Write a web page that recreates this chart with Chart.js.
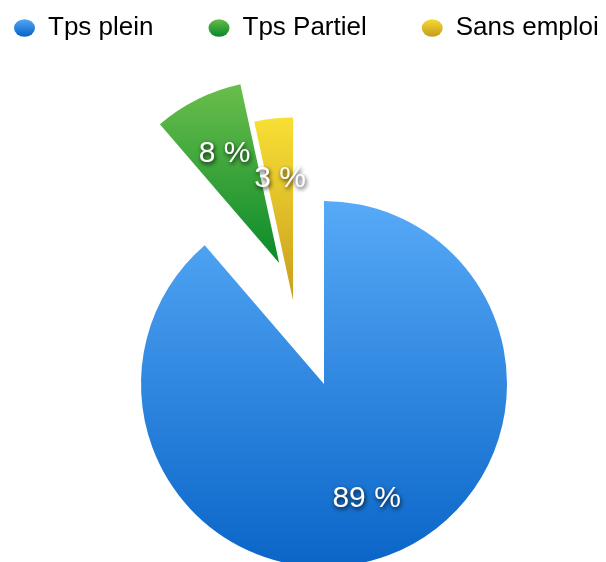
<!DOCTYPE html>
<html>
<head>
<meta charset="utf-8">
<script src="https://cdn.jsdelivr.net/npm/chart.js@4/dist/chart.umd.min.js"></script>
<style>
  html, body { margin: 0; padding: 0; background: #ffffff; overflow: hidden; }
  #wrap { position: relative; width: 606px; height: 562px; overflow: hidden; background: #ffffff; }
  #c { position: absolute; left: -41px; top: -40px; width: 730px; height: 757px; }
</style>
</head>
<body>
<div id="wrap"><canvas id="c" width="730" height="757"></canvas></div>
<script>
// ---- data ----
const categories = ['Tps plein', 'Tps Partiel', 'Sans emploi'];
const values = [88.7, 7.9, 3.4];
const valueLabels = ['89 %', '8 %', '3 %'];      // labels as printed

// ---- styles ----
const topColors = ['#57aaf7', '#6cbf4c', '#f8df35'];
const bottomColors = ['#0a65c8', '#0b8a2a', '#c89e1c'];
const explode = [0, 129, 89];          // explode distance (px) per slice
const pieRadius = 183;
const legendFont = 26;
const legendPad = 55;
const legendDotH = 12.5;

function sliceAngles() {
  const total = values.reduce((a, b) => a + b, 0);
  let a = -Math.PI / 2;
  return values.map(v => { const s = a; a += v / total * 2 * Math.PI; return [s, a]; });
}
function explodeVector(i) {
  if (!explode[i]) return [0, 0];
  const ang = sliceAngles();
  const idx = explode.map((d, k) => d > 0 ? k : -1).filter(k => k >= 0);
  const m = (ang[idx[0]][0] + ang[idx[idx.length - 1]][1]) / 2;
  return [Math.cos(m) * explode[i], Math.sin(m) * explode[i]];
}

function sliceGradient(ctx) {
  const chart = ctx.chart;
  const i = ctx.dataIndex;
  const ca = chart.chartArea;
  if (!ca || i === undefined) return topColors[i || 0];
  const cy = (ca.top + ca.bottom) / 2;
  const ty = explodeVector(i)[1];
  let y0, y1;
  if (i === 0) { y0 = cy - pieRadius; y1 = cy + pieRadius; }
  else { y0 = cy + ty - pieRadius; y1 = cy + ty; }
  const g = chart.ctx.createLinearGradient(0, y0, 0, y1);
  g.addColorStop(0, topColors[i]);
  g.addColorStop(1, bottomColors[i]);
  return g;
}

const explodePlugin = {
  id: 'explodeGroup',
  afterDatasetsUpdate(chart) {
    const meta = chart.getDatasetMeta(0);
    meta.data.forEach((el, i) => {
      const v = explodeVector(i);
      el.x += v[0];
      el.y += v[1];
    });
  }
};

const labelPlugin = {
  id: 'sliceLabels',
  afterDatasetsDraw(chart) {
    const ctx = chart.ctx;
    const meta = chart.getDatasetMeta(0);
    ctx.save();
    ctx.font = '30px "Liberation Sans", Arial, sans-serif';
    ctx.textAlign = 'center';
    ctx.textBaseline = 'middle';
    meta.data.forEach((el, i) => {
      const mid = (el.startAngle + el.endAngle) / 2;
      const r = el.outerRadius * 0.67;
      const x = el.x + Math.cos(mid) * r;
      const y = el.y + Math.sin(mid) * r;
      ctx.shadowColor = 'rgba(0,0,0,0.85)';
      ctx.shadowBlur = 4;
      ctx.shadowOffsetX = 1;
      ctx.shadowOffsetY = 2;
      ctx.fillStyle = '#ffffff';
      ctx.fillText(valueLabels[i], x, y);
    });
    ctx.restore();
  }
};

new Chart(document.getElementById('c'), {
  type: 'pie',
  data: {
    labels: categories,
    datasets: [{
      data: values,
      backgroundColor: sliceGradient,
      borderWidth: 0,
      radius: pieRadius
    }]
  },
  options: {
    responsive: false,
    animation: false,
    events: [],
    layout: { padding: 0 },
    plugins: {
      tooltip: { enabled: false },
      legend: {
        position: 'top',
        align: 'start',
        labels: {
          color: '#000000',
          font: { family: '"Liberation Sans", Arial, sans-serif', size: legendFont },
          padding: legendPad,
          usePointStyle: true,
          pointStyle: 'circle',
          pointStyleWidth: 21,
          boxHeight: legendDotH,
          generateLabels(chart) {
            const cy = legendPad + legendFont / 2;
            return categories.map((t, i) => {
              const g = chart.ctx.createLinearGradient(0, cy - 10, 0, cy + 8);
              g.addColorStop(0, topColors[i]);
              g.addColorStop(1, bottomColors[i]);
              return {
                text: t, fillStyle: g, strokeStyle: 'rgba(0,0,0,0)', lineWidth: 0,
                pointStyle: 'circle', hidden: false, index: i, fontColor: '#000000'
              };
            });
          }
        }
      }
    }
  },
  plugins: [explodePlugin, labelPlugin]
});
</script>
</body>
</html>
